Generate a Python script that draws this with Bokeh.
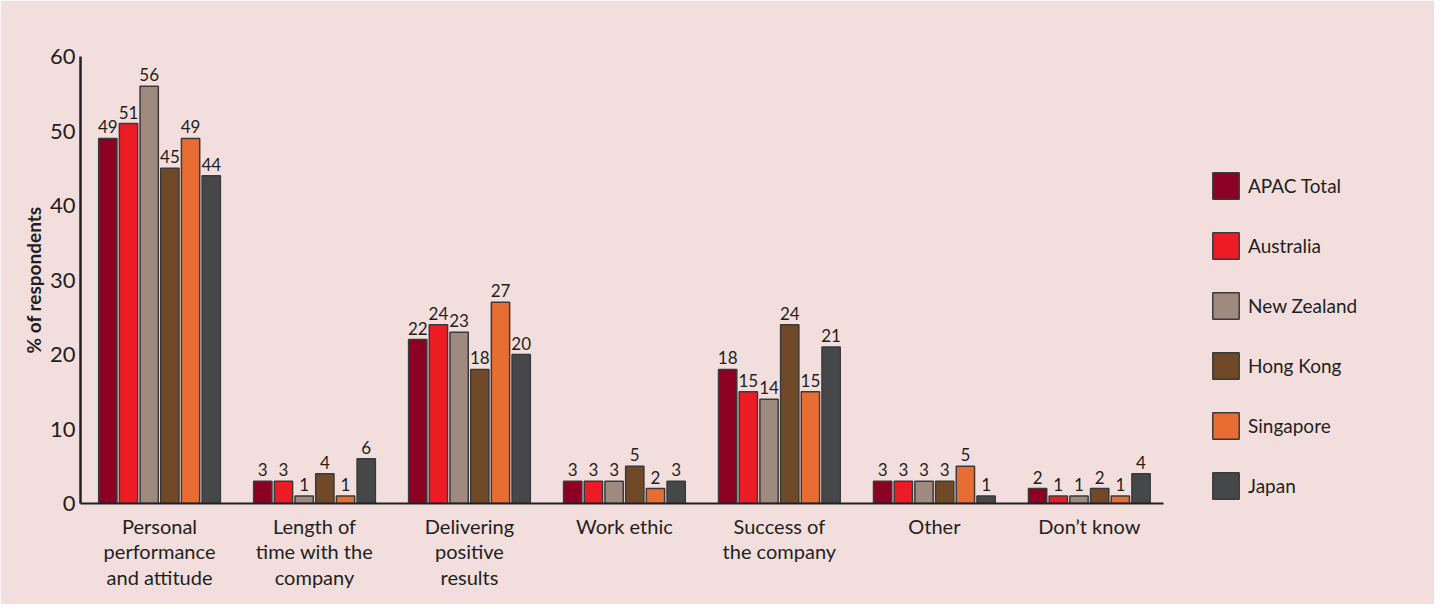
from bokeh.plotting import figure
from bokeh.models import ColumnDataSource, FixedTicker, Legend, LegendItem, Range1d
from bokeh.core.properties import value
from bokeh.embed import file_html
from bokeh.resources import INLINE

categories = ["Personal\nperformance\nand attitude", "Length of\ntime with the\ncompany",
              "Delivering\npositive\nresults", "Work ethic", "Success of\nthe company",
              "Other", "Don\u2019t know"]
series_names = ["APAC Total", "Australia", "New Zealand", "Hong Kong", "Singapore", "Japan"]
apac = [49, 3, 22, 3, 18, 3, 2]
australia = [51, 3, 24, 3, 15, 3, 1]
new_zealand = [56, 1, 23, 3, 14, 3, 1]
hong_kong = [45, 4, 18, 5, 24, 3, 2]
singapore = [49, 1, 27, 2, 15, 5, 1]
japan = [44, 6, 20, 3, 21, 1, 4]
y_ticks = [0, 10, 20, 30, 40, 50, 60]

series_values = [apac, australia, new_zealand, hong_kong, singapore, japan]
colors = ["#8b0023", "#ed1c24", "#9e8a7e", "#704a28", "#e86d33", "#454749"]

BG = "#f2dedd"
TXT = "#231f20"
FONT = "Lato"

p = figure(width=1434, height=604, output_backend="svg", toolbar_location=None,
           x_range=Range1d(-0.51, 8.15), y_range=Range1d(0, 60.0),
           min_border_left=80, min_border_top=56, min_border_bottom=101, min_border_right=12)
p.background_fill_color = BG
p.border_fill_color = BG
p.outline_line_color = BG
p.outline_line_width = 2
p.xgrid.visible = False
p.ygrid.visible = False

pitch = 0.1335
bw = 0.118
xs_idx = list(range(len(categories)))
items = []
for i, (name, vals, col) in enumerate(zip(series_names, series_values, colors)):
    off = (i - 2.5) * pitch
    src = ColumnDataSource(dict(x=[k + off for k in xs_idx], top=vals,
                                lab=[str(v) for v in vals]))
    r = p.vbar(x="x", top="top", bottom=0, width=bw, source=src, fill_color=col,
               line_color="#3a3a3a", line_width=1.5)
    p.text(x="x", y="top", text="lab", source=src, text_align="center",
           text_baseline="bottom", y_offset=-5, text_font=value(FONT),
           text_font_size="17px", text_color=TXT)
    items.append(LegendItem(label=name, renderers=[r]))

legend = Legend(items=items, location=(1129, 1), orientation="vertical",
                glyph_width=33, glyph_height=33, spacing=27, padding=0, margin=0,
                label_standoff=6, label_text_font=FONT, label_text_font_size="19px",
                label_text_color=TXT, label_height=33,
                border_line_alpha=0, background_fill_alpha=0)
p.add_layout(legend, "center")

xa = p.xaxis[0]
xa.ticker = FixedTicker(ticks=xs_idx)
xa.major_label_overrides = {k: c for k, c in enumerate(categories)}
xa.bounds = (-0.51, 6.48)
xa.axis_line_color = TXT
xa.axis_line_width = 2
xa.major_tick_line_alpha = 0
xa.minor_tick_line_alpha = 0
xa.major_label_standoff = 4
xa.major_label_text_font = FONT
xa.major_label_text_font_size = "20px"
xa.major_label_text_line_height = 1.08
xa.major_label_text_color = TXT

ya = p.yaxis[0]
ya.ticker = FixedTicker(ticks=y_ticks)
ya.axis_line_color = TXT
ya.axis_line_width = 2.5
ya.major_tick_line_alpha = 0
ya.minor_tick_line_alpha = 0
ya.major_tick_out = 0
ya.major_label_standoff = 5
ya.major_label_text_font = FONT
ya.major_label_text_font_size = "22px"
ya.major_label_text_color = TXT
ya.axis_label = "% of respondents"
ya.axis_label_text_font = FONT
ya.axis_label_text_font_style = "bold"
ya.axis_label_text_font_size = "19px"
ya.axis_label_text_color = TXT
ya.axis_label_standoff = 2

open("out.html", "w").write(file_html(p, INLINE))
